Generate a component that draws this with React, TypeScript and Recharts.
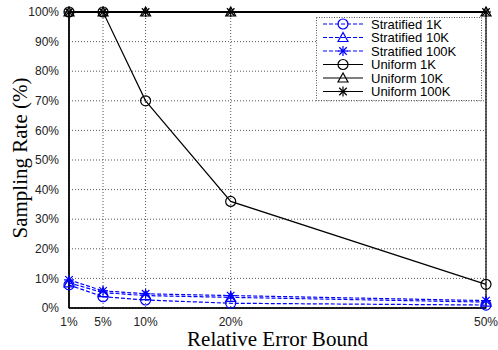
import React from 'react';
import { LineChart, Line, XAxis, YAxis, CartesianGrid, ReferenceArea, Legend } from 'recharts';

const errorBounds = [1, 5, 10, 20, 50];
const stratified1K = [7.8, 3.8, 2.7, 1.6, 1.0];
const stratified10K = [8.5, 5.2, 4.2, 3.6, 2.0];
const stratified100K = [9.5, 5.8, 4.8, 4.2, 2.5];
const uniform1K = [100, 100, 70, 36, 8];
const uniform10K = [100, 100, 100, 100, 100];
const uniform100K = [100, 100, 100, 100, 100];
const yTicks = [0, 10, 20, 30, 40, 50, 60, 70, 80, 90, 100];

const seriesNames = [
  'Stratified 1K',
  'Stratified 10K',
  'Stratified 100K',
  'Uniform 1K',
  'Uniform 10K',
  'Uniform 100K',
];

const data = errorBounds.map((x, i) => ({
  x,
  s1: stratified1K[i],
  s10: stratified10K[i],
  s100: stratified100K[i],
  u1: uniform1K[i],
  u10: uniform10K[i],
  u100: uniform100K[i],
}));

const BLUE = '#0000ff';
const SANS = '"Liberation Sans", Arial, Helvetica, sans-serif';
const SERIF = '"Liberation Serif", "Times New Roman", serif';

type Shape = 'circle' | 'triangle' | 'star';

function Marker({ cx, cy, shape, color }: { cx: number; cy: number; shape: Shape; color: string }) {
  const r = 5;
  if (shape === 'circle') {
    return <circle cx={cx} cy={cy} r={r} fill="none" stroke={color} strokeWidth={1.2} />;
  }
  if (shape === 'triangle') {
    return (
      <polygon
        points={`${cx},${cy - r} ${cx - r},${cy + r * 0.8} ${cx + r},${cy + r * 0.8}`}
        fill="none"
        stroke={color}
        strokeWidth={1.2}
      />
    );
  }
  const d = r * 0.75;
  return (
    <g stroke={color} strokeWidth={1.2}>
      <line x1={cx - r} y1={cy} x2={cx + r} y2={cy} />
      <line x1={cx} y1={cy - r} x2={cx} y2={cy + r} />
      <line x1={cx - d} y1={cy - d} x2={cx + d} y2={cy + d} />
      <line x1={cx - d} y1={cy + d} x2={cx + d} y2={cy - d} />
    </g>
  );
}

const makeDot = (shape: Shape, color: string) => (props: any) => {
  const { cx, cy, index } = props;
  if (cx == null || cy == null) return <g key={index} />;
  return <Marker key={`${shape}-${index}`} cx={cx} cy={cy} shape={shape} color={color} />;
};

const legendItems: { name: string; shape: Shape; color: string; dashed: boolean }[] = [
  { name: seriesNames[0], shape: 'circle', color: BLUE, dashed: true },
  { name: seriesNames[1], shape: 'triangle', color: BLUE, dashed: true },
  { name: seriesNames[2], shape: 'star', color: BLUE, dashed: true },
  { name: seriesNames[3], shape: 'circle', color: '#000', dashed: false },
  { name: seriesNames[4], shape: 'triangle', color: '#000', dashed: false },
  { name: seriesNames[5], shape: 'star', color: '#000', dashed: false },
];

const LegendBox = () => (
  <svg width={166} height={84} style={{ display: 'block' }}>
    <rect x={0.5} y={0.5} width={165} height={83} fill="#fff" stroke="#555" strokeDasharray="1 1.5" />
    {legendItems.map((it, i) => {
      const y = 7 + i * 13.5;
      return (
        <g key={it.name}>
          <line
            x1={7}
            y1={y}
            x2={47}
            y2={y}
            stroke={it.color}
            strokeWidth={1.2}
            strokeDasharray={it.dashed ? '4 2' : undefined}
          />
          <Marker cx={27} cy={y} shape={it.shape} color={it.color} />
          <text x={55} y={y + 4.6} fontSize={13} fontFamily={SANS} fill="#000">
            {it.name}
          </text>
        </g>
      );
    })}
  </svg>
);

export default function App() {
  return (
    <div style={{ position: 'absolute', left: 0, top: 0, width: 498, height: 350, background: '#fff' }}>
      <LineChart width={498} height={350} data={data} margin={{ top: 12, right: 12, left: 0, bottom: 0 }}>
        <CartesianGrid stroke="#555" strokeDasharray="1 2" strokeWidth={1} />
        <XAxis
          type="number"
          dataKey="x"
          domain={[1, 50]}
          ticks={errorBounds}
          tickFormatter={(v: number) => `${v}%`}
          height={42}
          axisLine={{ stroke: '#000', strokeWidth: 1.5 }}
          tickLine={false}
          tickMargin={3}
          tick={{ fontSize: 12, fill: '#222', fontFamily: SANS }}
          label={{
            content: () => (
              <text x={277.5} y={346} textAnchor="middle" fontSize={21} fontFamily={SERIF} fill="#000">
                Relative Error Bound
              </text>
            ),
          }}
        />
        <YAxis
          type="number"
          domain={[0, 100]}
          ticks={yTicks}
          tickFormatter={(v: number) => `${v}%`}
          width={69}
          axisLine={{ stroke: '#000', strokeWidth: 1.5 }}
          tickLine={false}
          tickMargin={4}
          tick={{ fontSize: 12, fill: '#222', fontFamily: SANS }}
          label={{
            content: () => (
              <text
                x={27}
                y={158}
                textAnchor="middle"
                fontSize={21}
                fontFamily={SERIF}
                fill="#000"
                transform="rotate(-90 27 158)"
              >
                Sampling Rate (%)
              </text>
            ),
          }}
        />
        <ReferenceArea x1={1} x2={50} y1={0} y2={100} fill="none" stroke="#000" strokeWidth={1.2} ifOverflow="visible" />
        <Line dataKey="s1" name={seriesNames[0]} stroke={BLUE} strokeWidth={1.2} strokeDasharray="4 2" dot={makeDot('circle', BLUE)} isAnimationActive={false} />
        <Line dataKey="s10" name={seriesNames[1]} stroke={BLUE} strokeWidth={1.2} strokeDasharray="4 2" dot={makeDot('triangle', BLUE)} isAnimationActive={false} />
        <Line dataKey="s100" name={seriesNames[2]} stroke={BLUE} strokeWidth={1.2} strokeDasharray="4 2" dot={makeDot('star', BLUE)} isAnimationActive={false} />
        <Line dataKey="u1" name={seriesNames[3]} stroke="#000" strokeWidth={1.2} dot={makeDot('circle', '#000')} isAnimationActive={false} />
        <Line dataKey="u10" name={seriesNames[4]} stroke="#000" strokeWidth={2} dot={makeDot('triangle', '#000')} isAnimationActive={false} />
        <Line dataKey="u100" name={seriesNames[5]} stroke="#000" strokeWidth={2} dot={makeDot('star', '#000')} isAnimationActive={false} />
        <Legend
          layout="vertical"
          align="center"
          verticalAlign="middle"
          content={() => <LegendBox />}
          wrapperStyle={{ position: 'absolute', left: 316, top: 17, width: 166, height: 84 }}
        />
      </LineChart>
    </div>
  );
}
